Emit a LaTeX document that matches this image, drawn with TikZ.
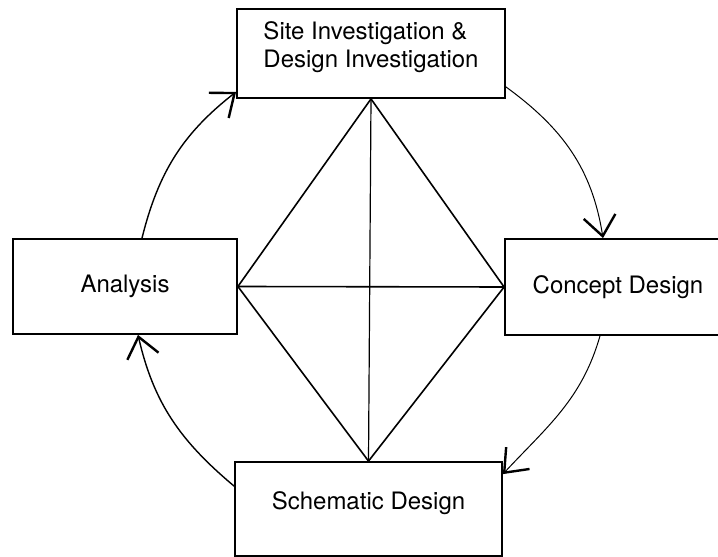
\documentclass[tikz,border=0pt]{standalone}
\usepackage{fontspec}
\setmainfont{TeX Gyre Heros}
\usetikzlibrary{arrows.meta}

\begin{document}
\begin{tikzpicture}[x=1pt,y=1pt,
    font=\fontsize{24}{28}\selectfont,
    box/.style={draw,line width=1.8pt,rectangle},
    flow/.style={line width=1pt,-{Straight Barb[length=20pt,width=32pt,line width=2.4pt]}}]
  \useasboundingbox (0,0) rectangle (718,557);
  \clip (0,0) rectangle (718,557);
  \draw
    (371,503.5) node[box,minimum width=268pt,minimum height=89pt,align=left,text depth=17pt] (site){Site Investigation \&\\Design Investigation}
    (125,270.5) node[box,minimum width=224pt,minimum height=95pt] (analysis){Analysis}
    (618,270) node[box,minimum width=226pt,minimum height=96pt] (concept){Concept Design}
    (368.5,48) node[box,minimum width=267pt,minimum height=94pt,text depth=16pt] (schematic){Schematic Design};
  % the diamond and its cross
  \begin{scope}[line width=1.6pt]
    \draw (site.south) to (analysis.east);
    \draw (analysis.east) to (schematic.north);
    \draw (schematic.north) to (concept.west);
    \draw (concept.west) to (site.south);
    \draw (analysis.east) to (concept.west);
    \draw[line width=1.2pt] (site.south) to (schematic.north);
  \end{scope}
  % the cycle round the outside
  \begin{scope}[flow]
    \draw[line width=1.4pt] ([xshift=17pt]analysis.north) to[out=76,in=218] ([yshift=7pt]site.south west);
    \draw ([yshift=12pt]site.south east) to[out=-36,in=99] ([xshift=-15pt]concept.north);
    \draw ([xshift=-18pt]concept.south) to[out=254,in=47] ([yshift=-13pt]schematic.north east);
    \draw[line width=1.4pt] ([yshift=-25pt]schematic.north west) to[out=140,in=-77] ([xshift=13pt]analysis.south);
  \end{scope}
\end{tikzpicture}
\end{document}
